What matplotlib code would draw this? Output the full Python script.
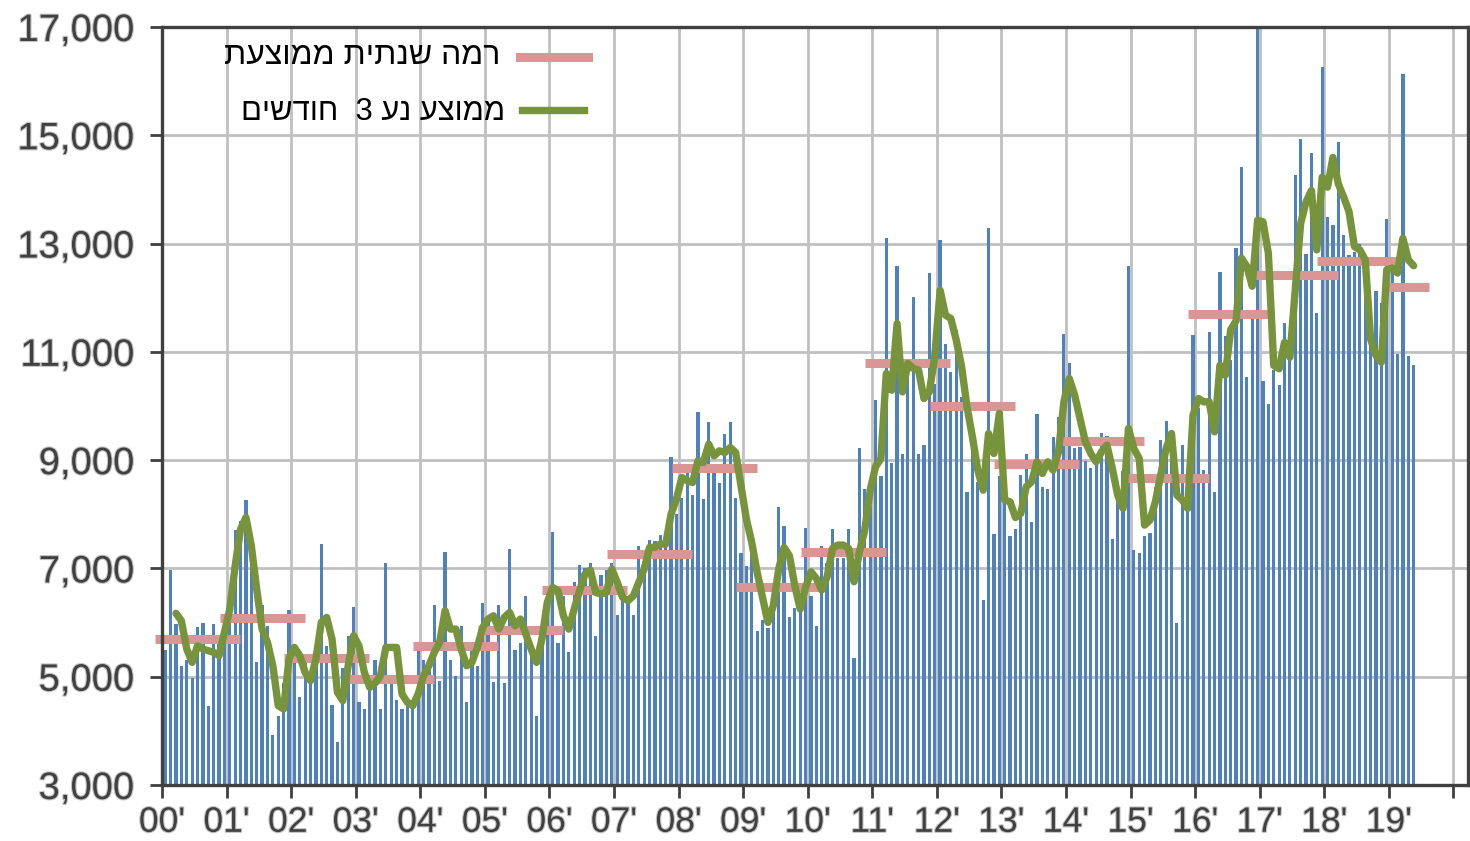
""" Monthly values 2000-2019 with yearly level and 3-month moving average.
"""

import matplotlib
matplotlib.use('Agg')
import matplotlib.pyplot as plt
import matplotlib.patheffects as pe


# monthly values, one row per year (Jan..Dec), 2019 up to May
monthly = [
    5490, 6975, 5970, 5190, 5300, 4970, 5920, 6000, 4450, 5970, 5700, 6000,
    6500, 7710, 7880, 8270, 7200, 5280, 6320, 5940, 3920, 4270, 4880, 6230,
    5500, 4620, 5300, 4900, 5200, 7450, 5570, 4480, 3790, 5170, 5760, 6280,
    4540, 4400, 5000, 5300, 4400, 7100, 4900, 4570, 4400, 4470, 4500, 5490,
    5300, 5140, 6320, 4930, 7310, 5310, 5020, 5930, 4540, 5600, 5200, 6360,
    6000, 4900, 6320, 4880, 7360, 5490, 5620, 6500, 5540, 4280, 5800, 6500,
    7670, 5620, 6500, 5450, 6750, 7060, 7000, 7100, 5760, 6880, 6970, 7100,
    6140, 6400, 6360, 6140, 7410, 7300, 7530, 7500, 7620, 7600, 9050, 8000,
    8300, 8800, 8360, 9880, 8280, 9710, 8800, 8580, 9490, 9710, 8310, 7280,
    7050, 7400, 5840, 6050, 5900, 6300, 8140, 7790, 6100, 6270, 6500, 7740,
    6500, 5940, 7410, 7100, 7720, 7200, 7200, 7720, 5340, 9230, 8460, 8150,
    10110, 8710, 13110, 8940, 12580, 9110, 10800, 12010, 9110, 9280, 12460, 10400,
    13060, 11140, 10630, 11410, 10160, 8420, 9400, 8600, 6420, 13280, 7630, 8710,
    8300, 7590, 7720, 8720, 9110, 7850, 9850, 8500, 8470, 9420, 9800, 11330,
    10800, 9230, 9250, 8980, 8860, 9100, 9500, 9450, 7550, 8600, 8800, 12590,
    7340, 7290, 7600, 7650, 8500, 9380, 9720, 9000, 5990, 9280, 8800, 11320,
    9970, 8820, 11370, 8420, 12470, 11300, 10850, 12910, 14420, 10540, 11600, 17050,
    10460, 10030, 10660, 10380, 11530, 10870, 14260, 14940, 12800, 14670, 11710, 16270,
    13500, 13340, 14880, 13160, 12780, 12850, 12990, 12000, 11300, 12120, 11910, 13460,
    12500, 10960, 16140, 10920, 10750,
]

# 3-month moving average, starting March 2000
moving_avg = [
    6170, 6034, 5511, 5265, 5572, 5511, 5480, 5449, 5388, 5818,
    6249, 7049, 7726, 7942, 7418, 6618, 5880, 5634, 5203, 4465, 4403, 5326,
    5542, 5388, 5080, 4926, 5326, 6003, 6095, 5695, 4711, 4557, 5203, 5757,
    5572, 5080, 4803, 4880, 5018, 5541, 5541, 5541, 4680, 4526, 4465, 4680,
    5018, 5203, 5449, 5634, 6218, 5880, 5880, 5511, 5203, 5265, 5541, 5911,
    6065, 6126, 5880, 6095, 6188, 5942, 6065, 5788, 5511, 5265, 5695, 6372,
    6649, 6588, 6126, 5880, 6249, 6588, 6895, 6970, 6557, 6526, 6557, 6988,
    6741, 6465, 6403, 6495, 6741, 6988, 7388, 7388, 7449, 7449, 8003, 8280,
    8680, 8618, 8588, 8988, 8957, 9295, 9080, 9172, 9141, 9234, 9141, 8526,
    7911, 7480, 6926, 6465, 6003, 6311, 6988, 7388, 7234, 6680, 6249, 6650,
    6938, 6815, 6600, 6846, 7369, 7431, 7431, 7369, 6754, 7308, 7708, 8446,
    8877, 9031, 10600, 10292, 11523, 10261, 10785, 10692, 10662, 10138, 10261, 10908,
    12138, 11677, 11615, 11215, 10723, 9985, 9431, 8815, 8446, 9492, 9123, 9862,
    8262, 8231, 7940, 8015, 8508, 8600, 8969, 8754, 8969, 8815, 9154, 10077,
    10508, 10200, 9769, 9338, 9123, 8969, 9154, 9277, 8846, 8354, 8108, 9585,
    9215, 9031, 7800, 7892, 8231, 8723, 9215, 9492, 8354, 8262, 8108, 9831,
    10138, 10077, 10077, 9523, 10754, 10569, 11410, 11572, 12731, 12578, 12212, 13432,
    13402, 12822, 10748, 10687, 11175, 10901, 12151, 13371, 13768, 13981, 12883, 14225,
    14042, 14591, 14103, 13859, 13585, 12944, 12883, 12700, 11236, 10931, 10809, 12517,
    12548, 12456, 13097, 12700, 12591,
]

# yearly average level, 2000..2019
yearly_avg = [5690, 6080, 5345, 4950, 5560, 5868, 6605, 7258, 8858, 6649,
              7300, 10785, 10003, 8923, 9351, 8662, 11695, 12414, 12670, 12200]

year_labels = ["00'", "01'", "02'", "03'", "04'", "05'", "06'", "07'", "08'", "09'",
               "10'", "11'", "12'", "13'", "14'", "15'", "16'", "17'", "18'", "19'", ""]

legend_level = 'רמה שנתית ממוצעת'
legend_ma = 'ממוצע נע 3  חודשים'


def visual(s):
    # matplotlib lays out left to right, so flip the Hebrew text
    return s[::-1]


def main():
    blue = '#4F81BD'
    pink = '#D99694'
    green = '#77933C'
    dark = '#404040'
    fam = ['Liberation Sans', 'DejaVu Sans']

    fig = plt.figure(figsize=(14.7, 8.41), dpi=100)
    ax = fig.add_axes([162 / 1470, 1 - 785 / 841, 1306 / 1470, 758 / 841])

    # bars, one per month
    xs = [i + 0.6 for i in range(len(monthly))]
    ax.bar(xs, monthly, width=0.6, color=blue, zorder=2)

    # yearly level segments
    for y, avg in enumerate(yearly_avg):
        first = 12 * y
        n = min(12, len(monthly) - first)
        ax.hlines(avg, first - 1.3, first + n + 2.5, color=pink, lw=6.5,
                  zorder=3, clip_on=False)

    # moving average
    ma_x = [i + 0.6 for i in range(2, 2 + len(moving_avg))]
    ax.plot(ma_x, moving_avg, color=green, lw=5.3, zorder=4,
            solid_joinstyle='round', solid_capstyle='round')

    ax.set_xlim(0, 242.7)
    ax.set_ylim(3000, 17000)
    ax.set_xticks(range(0, 241, 12))
    ax.set_xticklabels(year_labels)
    ax.set_yticks(range(3000, 17001, 2000))
    ax.set_yticklabels([f'{v:,}' for v in range(3000, 17001, 2000)])

    ax.grid(True, color='#c0c0c0', lw=2, zorder=0)
    ax.set_axisbelow(True)
    for sp in ax.spines.values():
        sp.set_color(dark)
        sp.set_linewidth(2.4)
        sp.set_zorder(5)

    ax.tick_params(axis='both', direction='out', length=9, width=2, color=dark,
                   labelcolor='#404040')
    ax.tick_params(axis='y', pad=11)
    ax.tick_params(axis='x', pad=6)
    halo = [pe.withStroke(linewidth=1.6, foreground='#c4c4c4')]
    for lab in ax.get_yticklabels():
        lab.set_family(fam)
        lab.set_fontsize(27.5)
        lab.set_path_effects(halo)
    for lab in ax.get_xticklabels():
        lab.set_family(fam)
        lab.set_fontsize(25.5)
        lab.set_path_effects(halo)

    # legend, right to left: text then sample line
    ax.plot([0.274, 0.326], [0.960, 0.960], transform=ax.transAxes,
            color=pink, lw=6.5, clip_on=False, zorder=6)
    ax.plot([0.276, 0.323], [0.8905, 0.8905], transform=ax.transAxes,
            color=green, lw=5.3, clip_on=False, zorder=6)
    ax.text(0.2588, 0.962, visual(legend_level), transform=ax.transAxes,
            ha='right', va='center', fontsize=23, family=fam, color='black')
    ax.text(0.2626, 0.888, visual(legend_ma), transform=ax.transAxes,
            ha='right', va='center', fontsize=22.3, family=fam, color='black')

    fig.savefig('out.png', dpi=100)


if __name__ == '__main__':
    main()
